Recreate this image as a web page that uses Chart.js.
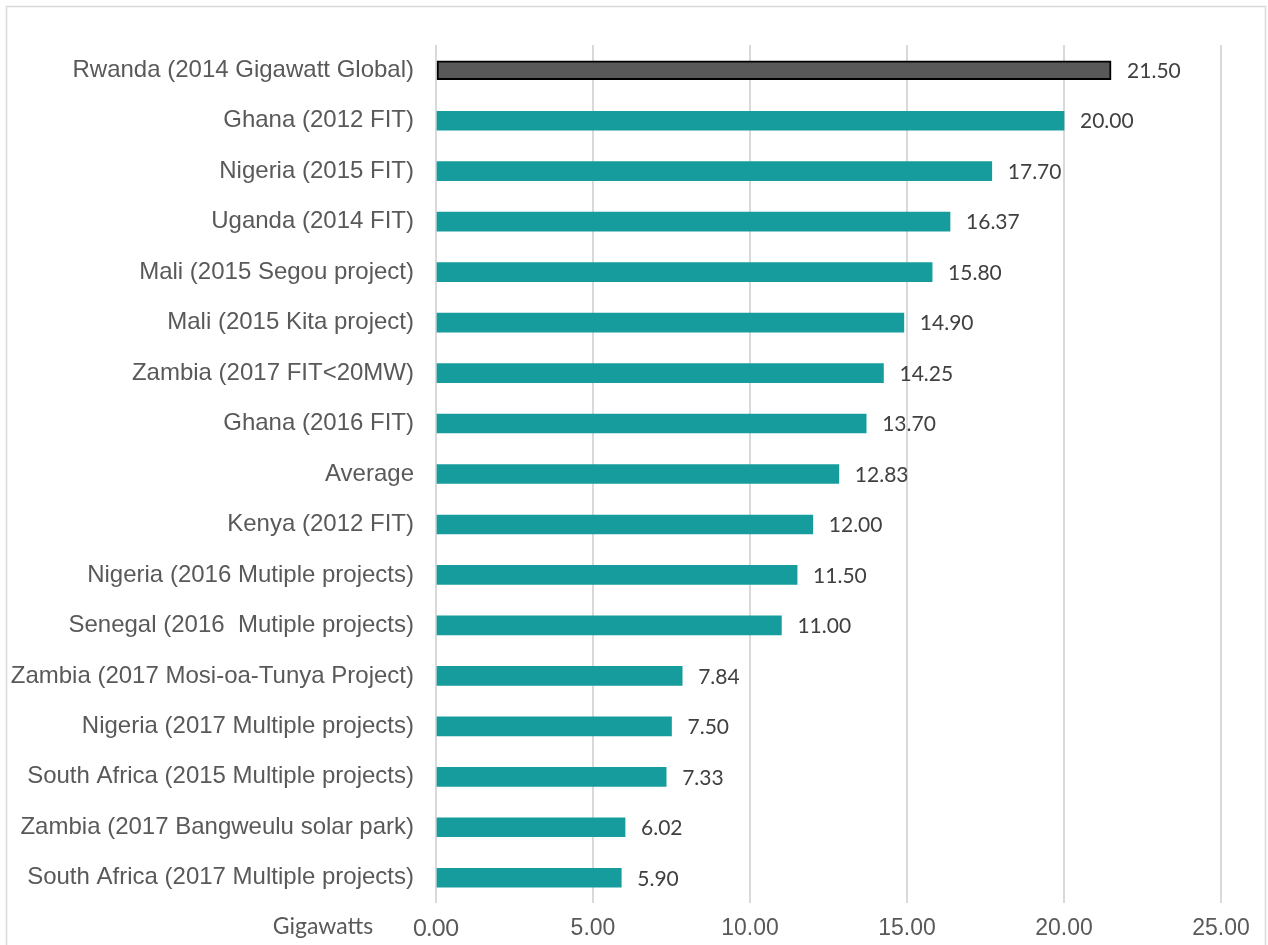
<!DOCTYPE html>
<html>
<head>
<meta charset="utf-8">
<script src="https://cdn.jsdelivr.net/npm/chart.js@4/dist/chart.umd.min.js"></script>
<style>
  html, body { margin: 0; padding: 0; background: #fff; }
  #wrap { position: absolute; left: 0; top: 0; width: 1268px; height: 945px; }
</style>
</head>
<body>
<div id="wrap"><canvas id="tariffChart"></canvas></div>
<script>
// Categories, top to bottom
const projects = [
  'Rwanda (2014 Gigawatt Global)',
  'Ghana (2012 FIT)',
  'Nigeria (2015 FIT)',
  'Uganda (2014 FIT)',
  'Mali (2015 Segou project)',
  'Mali (2015 Kita project)',
  'Zambia (2017 FIT<20MW)',
  'Ghana (2016 FIT)',
  'Average',
  'Kenya (2012 FIT)',
  'Nigeria (2016 Mutiple projects)',
  'Senegal (2016  Mutiple projects)',
  'Zambia (2017 Mosi-oa-Tunya Project)',
  'Nigeria (2017 Multiple projects)',
  'South Africa (2015 Multiple projects)',
  'Zambia (2017 Bangweulu solar park)',
  'South Africa (2017 Multiple projects)'
];
const values = [21.50, 20.00, 17.70, 16.37, 15.80, 14.90, 14.25, 13.70, 12.83, 12.00, 11.50, 11.00, 7.84, 7.50, 7.33, 6.02, 5.90];
const xTicks = [0, 5, 10, 15, 20, 25];
const axisTitle = 'Gigawatts';

const teal = '#169c9c';
const barColors = values.map((v, i) => i === 0 ? '#595959' : teal);
const barBorders = values.map((v, i) => i === 0 ? 2 : 0);

// Frame, axis caption and value labels
const extras = {
  id: 'extras',
  beforeDraw(chart) {
    const ctx = chart.ctx;
    ctx.save();
    ctx.strokeStyle = '#d9d9d9';
    ctx.lineWidth = 1.5;
    ctx.strokeRect(6.5, 6.5, 1259, chart.height + 10);
    ctx.restore();
  },
  afterDatasetsDraw(chart) {
    const ctx = chart.ctx;
    const meta = chart.getDatasetMeta(0);
    ctx.save();
    ctx.font = '21px Lato, "Open Sans", sans-serif';
    ctx.fillStyle = '#404040';
    ctx.textAlign = 'left';
    ctx.textBaseline = 'middle';
    meta.data.forEach((bar, i) => {
      ctx.fillText(values[i].toFixed(2), bar.x + 16, bar.y + 1);
    });
    ctx.font = '23px Lato, sans-serif';
    ctx.fillStyle = '#595959';
    ctx.textAlign = 'center';
    ctx.fillText(axisTitle, 323, 927);
    ctx.restore();
  }
};

const ctx = document.getElementById('tariffChart').getContext('2d');
const tariffChart = new Chart(ctx, {
  type: 'bar',
  data: {
    labels: projects,
    datasets: [{
      data: values,
      backgroundColor: barColors,
      borderColor: '#000000',
      borderWidth: barBorders,
      borderSkipped: false,
      barThickness: 19,
    }]
  },
  options: {
    indexAxis: 'y',
    responsive: true,
    maintainAspectRatio: false,
    animation: false,
    layout: {
      padding: { top: 45, right: 47, bottom: 0, left: 0 }
    },
    scales: {
      x: {
        min: 0,
        max: 25,
        afterBuildTicks(scale) {
          scale.ticks = xTicks.map(v => ({ value: v }));
        },
        afterFit(scale) {
          scale.height = 42;
        },
        border: { display: false },
        grid: {
          color: '#d9d9d9',
          lineWidth: 2,
          drawTicks: false,
        },
        ticks: {
          padding: 12,
          color: '#595959',
          font: c => c.index === 0
            ? { family: 'Lato, sans-serif', size: 23 }
            : { family: '"Liberation Sans", Arial, sans-serif', size: 23 },
          callback: v => Number(v).toFixed(2),
        }
      },
      y: {
        afterFit(scale) {
          scale.width = 436;
        },
        border: { display: false },
        grid: { display: false, drawTicks: false },
        ticks: {
          padding: 22,
          color: '#595959',
          font: { family: '"Liberation Sans", Arial, sans-serif', size: 24 },
        }
      }
    },
    plugins: {
      legend: { display: false },
      tooltip: { enabled: false }
    }
  },
  plugins: [extras]
});
</script>
</body>
</html>
